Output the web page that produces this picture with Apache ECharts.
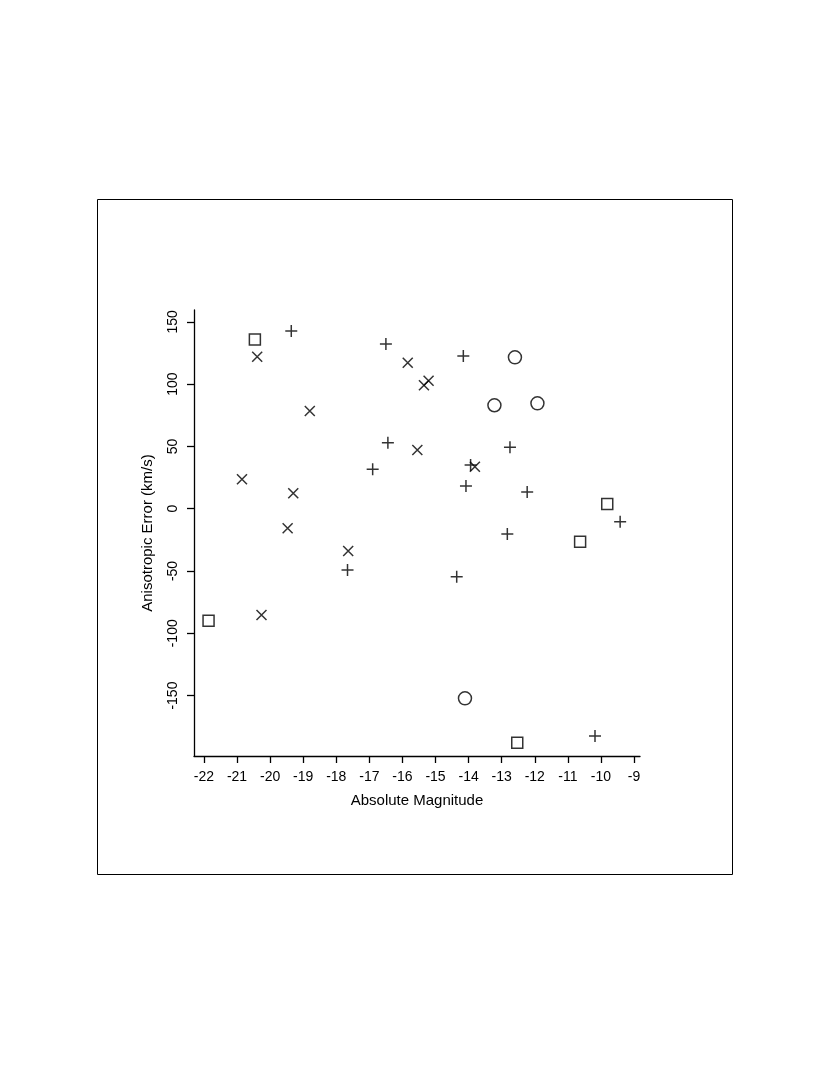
<!DOCTYPE html>
<html lang="en">
<head>
    <meta charset="UTF-8">
    <script type="text/javascript" src="https://cdn.jsdelivr.net/npm/echarts@6.0.0/dist/echarts.min.js"></script>
    <title>Anisotropic Error</title>
    <style>
        html, body { margin: 0; padding: 0; background: #fff; }
    </style>
</head>
<body>
<div id="chart" style="width: 830px;height:1075px;"></div>
<script type="text/javascript">
    // data: [absolute magnitude, anisotropic error]
    var squares = [[-20.46, 135.9], [-21.86, -89.9], [-9.81, 3.8], [-10.63, -26.5], [-12.53, -187.8]];
    var circles = [[-12.6, 121.5], [-13.22, 83.0], [-11.92, 84.6], [-14.11, -152.2]];
    var pluses = [[-19.36, 142.6], [-16.50, 132.2], [-14.16, 122.6], [-16.44, 53.0], [-16.90, 31.6],
        [-13.94, 35.1], [-14.08, 18.2], [-12.75, 49.3], [-12.23, 13.4], [-9.42, -10.4],
        [-12.83, -20.3], [-14.36, -54.6], [-17.66, -49.2], [-10.18, -182.4]];
    var crosses = [[-20.39, 122.0], [-18.80, 78.4], [-20.85, 23.6], [-19.30, 12.4], [-19.47, -15.7],
        [-20.26, -85.3], [-15.84, 117.2], [-15.35, 99.1], [-15.21, 102.7], [-15.55, 47.1],
        [-13.81, 33.7], [-17.64, -33.9]];

    var xTicks = [-22, -21, -20, -19, -18, -17, -16, -15, -14, -13, -12, -11, -10, -9];
    var yTicks = [-150, -100, -50, 0, 50, 100, 150];

    var chart = echarts.init(document.getElementById('chart'));
    var font = 'Liberation Sans, Arial, sans-serif';
    var mark = { color: 'transparent', borderColor: '#000', borderWidth: 1.5 };

    chart.setOption({
        animation: false,
        backgroundColor: '#fff',
        textStyle: { fontFamily: font },
        grid: { left: 194, right: 190, top: 310, bottom: 319, containLabel: false },
        graphic: [{
            type: 'rect',
            shape: { x: 97.5, y: 199.5, width: 635, height: 675 },
            style: { fill: 'none', stroke: '#000', lineWidth: 1 }
        }],
        xAxis: {
            type: 'value',
            min: -22.3,
            max: -8.82,
            name: 'Absolute Magnitude',
            nameLocation: 'middle',
            nameGap: 37,
            nameTextStyle: { fontSize: 15, color: '#000', fontFamily: font },
            axisLine: { onZero: false, lineStyle: { color: '#000', width: 1.3 } },
            axisTick: { length: 7, lineStyle: { color: '#000', width: 1.3 }, customValues: xTicks },
            axisLabel: { fontSize: 14, color: '#000', margin: 14, customValues: xTicks },
            splitLine: { show: false }
        },
        yAxis: {
            type: 'value',
            min: -198.5,
            max: 159.5,
            name: 'Anisotropic Error (km/s)',
            nameLocation: 'middle',
            nameGap: 39,
            nameTextStyle: { fontSize: 15, color: '#000', fontFamily: font },
            axisLine: { show: true, onZero: false, lineStyle: { color: '#000', width: 1.3 } },
            axisTick: { show: true, length: 7, lineStyle: { color: '#000', width: 1.3 }, customValues: yTicks },
            axisLabel: { fontSize: 14, color: '#000', margin: 14, rotate: 90, customValues: yTicks },
            splitLine: { show: false }
        },
        series: [{
            type: 'scatter',
            data: squares,
            symbol: 'rect',
            symbolSize: 11,
            itemStyle: mark
        }, {
            type: 'scatter',
            data: circles,
            symbol: 'circle',
            symbolSize: 13,
            itemStyle: mark
        }, {
            type: 'scatter',
            data: pluses,
            symbol: 'path://M0,5H10M5,0V10',
            symbolSize: 12,
            itemStyle: mark
        }, {
            type: 'scatter',
            data: crosses,
            symbol: 'path://M0,0L10,10M10,0L0,10',
            symbolSize: 10,
            itemStyle: mark
        }]
    });
</script>
</body>
</html>
